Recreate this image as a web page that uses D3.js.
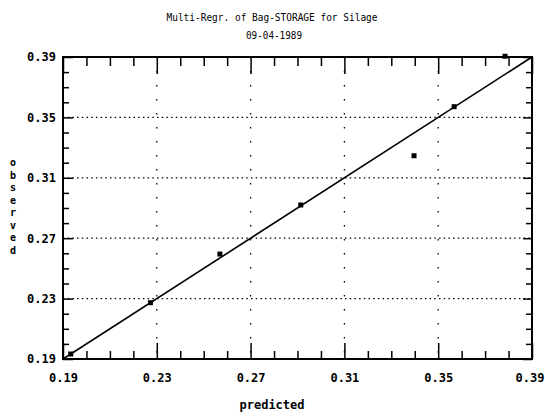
<!DOCTYPE html>
<html>
<head>
<meta charset="utf-8">
<script src="https://cdn.jsdelivr.net/npm/d3@7"></script>
<style>
  html, body { margin: 0; padding: 0; background: #fff; }
  svg { display: block; }
</style>
</head>
<body>
<svg id="chart" width="545" height="417"></svg>
<script>
// ---- data ----
const predicted = [0.1933, 0.2273, 0.2569, 0.2914, 0.3397, 0.3568, 0.3785];
const observed  = [0.1933, 0.2273, 0.2595, 0.2920, 0.3246, 0.3571, 0.3905];
const fitLine   = [0.19, 0.39];
const majorTicks = [0.19, 0.23, 0.27, 0.31, 0.35, 0.39];
const minorTicks = [0.20,0.21,0.22,0.24,0.25,0.26,0.28,0.29,0.30,0.32,0.33,0.34,0.36,0.37,0.38];
const titleLines = ["Multi-Regr. of Bag-STORAGE for Silage", "09-04-1989"];
const xLabel = "predicted";
const yLabel = "observed";

const svg = d3.select("#chart");
const L = 63, R = 532, T = 57, B = 359;
const x = d3.scaleLinear().domain([0.19, 0.39]).range([L, R]);
const y = d3.scaleLinear().domain([0.19, 0.39]).range([B, T]);
const fmt = d3.format(".2f");
const mono = "'DejaVu Sans Mono', 'Liberation Mono', monospace";

// grid
svg.append("g").selectAll("line").data(majorTicks.slice(1, -1)).join("line")
  .attr("x1", d => x(d)).attr("x2", d => x(d)).attr("y1", T).attr("y2", B)
  .attr("stroke", "#000").attr("stroke-width", 1.3).attr("stroke-dasharray", "1.5,12.5");
svg.append("g").selectAll("line").data(majorTicks.slice(1, -1)).join("line")
  .attr("y1", d => y(d)).attr("y2", d => y(d)).attr("x1", L).attr("x2", R)
  .attr("stroke", "#000").attr("stroke-width", 1.3).attr("stroke-dasharray", "1.5,3.2");

function styleAxis(g) {
  g.select(".domain").remove();
  g.selectAll(".tick line").attr("stroke", "#000").attr("stroke-width", 1.5);
  g.selectAll(".tick text").attr("font-family", mono).attr("font-weight", "bold")
    .attr("font-size", 12).attr("fill", "#000");
}

// bottom axis
const bottomG = svg.append("g").attr("transform", `translate(0,${B})`)
  .call(d3.axisBottom(x).tickValues(majorTicks).tickSize(-16).tickSizeOuter(0).tickPadding(14).tickFormat(fmt))
  .call(styleAxis);
// keep the last label inside the window (reference shows it flush with the right edge)
bottomG.selectAll(".tick text").filter(d => d === majorTicks[majorTicks.length - 1])
  .attr("text-anchor", "end").attr("x", 544 - R);
svg.append("g").attr("transform", `translate(0,${B})`)
  .call(d3.axisBottom(x).tickValues(minorTicks).tickSize(-8).tickSizeOuter(0).tickFormat(""))
  .call(styleAxis);
// top axis
svg.append("g").attr("transform", `translate(0,${T})`)
  .call(d3.axisTop(x).tickValues(majorTicks).tickSize(-17).tickSizeOuter(0).tickFormat(""))
  .call(styleAxis);
svg.append("g").attr("transform", `translate(0,${T})`)
  .call(d3.axisTop(x).tickValues(minorTicks).tickSize(-9).tickSizeOuter(0).tickFormat(""))
  .call(styleAxis);
// left axis
svg.append("g").attr("transform", `translate(${L},0)`)
  .call(d3.axisLeft(y).tickValues(majorTicks).tickSize(-10).tickSizeOuter(0).tickPadding(7).tickFormat(fmt))
  .call(styleAxis);
svg.append("g").attr("transform", `translate(${L},0)`)
  .call(d3.axisLeft(y).tickValues(minorTicks).tickSize(-6).tickSizeOuter(0).tickFormat(""))
  .call(styleAxis);
// right axis
svg.append("g").attr("transform", `translate(${R},0)`)
  .call(d3.axisRight(y).tickValues(majorTicks).tickSize(-9).tickSizeOuter(0).tickFormat(""))
  .call(styleAxis);
svg.append("g").attr("transform", `translate(${R},0)`)
  .call(d3.axisRight(y).tickValues(minorTicks).tickSize(-6).tickSizeOuter(0).tickFormat(""))
  .call(styleAxis);

// frame
svg.append("rect").attr("x", L).attr("y", T).attr("width", R - L).attr("height", B - T)
  .attr("fill", "none").attr("stroke", "#000").attr("stroke-width", 2);

// fit line
svg.append("line")
  .attr("x1", x(fitLine[0])).attr("y1", y(fitLine[0]))
  .attr("x2", x(fitLine[1])).attr("y2", y(fitLine[1]))
  .attr("stroke", "#000").attr("stroke-width", 1.6);

// points
svg.append("g").selectAll("rect").data(predicted.map((p, i) => [p, observed[i]])).join("rect")
  .attr("x", d => x(d[0]) - 2.5).attr("y", d => y(d[1]) - 2.5)
  .attr("width", 5).attr("height", 5).attr("fill", "#000");

// title
svg.append("text").attr("x", 272).attr("y", 21).attr("text-anchor", "middle")
  .attr("font-family", mono).attr("font-size", 11).attr("textLength", 211)
  .attr("lengthAdjust", "spacingAndGlyphs").text(titleLines[0]);
svg.append("text").attr("x", 274).attr("y", 39).attr("text-anchor", "middle")
  .attr("font-family", mono).attr("font-size", 11).attr("textLength", 56)
  .attr("lengthAdjust", "spacingAndGlyphs").text(titleLines[1]);

// x label
svg.append("text").attr("x", 272).attr("y", 409).attr("text-anchor", "middle")
  .attr("font-family", mono).attr("font-weight", "bold").attr("font-size", 12).text(xLabel);

// y label stacked
svg.append("g").selectAll("text").data(yLabel.split("")).join("text")
  .attr("x", 13).attr("y", (d, i) => 166 + i * 12.5).attr("text-anchor", "middle")
  .attr("font-family", mono).attr("font-weight", "bold").attr("font-size", 10).text(d => d);
</script>
</body>
</html>
